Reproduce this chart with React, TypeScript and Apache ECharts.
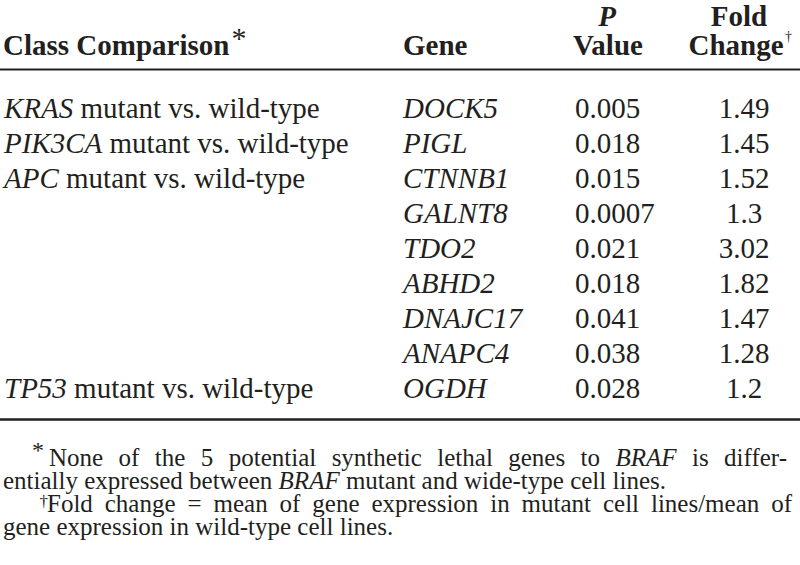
import React, { useEffect, useRef } from 'react';
import * as echarts from 'echarts';

const FAMILY = 'Liberation Serif';
const INK = '#231f20';

// ---- table text ----
const headerClass = 'Class Comparison';
const headerClassMark = '*';
const headerGene = 'Gene';
const headerP = ['P', 'Value'];
const headerFold = ['Fold', 'Change'];
const headerFoldMark = '\u2020';

const classGenes = ['KRAS', 'PIK3CA', 'APC', '', '', '', '', '', 'TP53'];
const classSuffix = 'mutant vs. wild-type';
const genes = ['DOCK5', 'PIGL', 'CTNNB1', 'GALNT8', 'TDO2', 'ABHD2', 'DNAJC17', 'ANAPC4', 'OGDH'];
const pValues = ['0.005', '0.018', '0.015', '0.0007', '0.021', '0.018', '0.041', '0.038', '0.028'];
const foldChanges = ['1.49', '1.45', '1.52', '1.3', '3.02', '1.82', '1.47', '1.28', '1.2'];

// ---- footnotes: [text, italic] runs ----
const footnoteMarks = ['*', '\u2020'];
const footnote1Line1: [string, boolean][] = [
  ['None of the 5 potential synthetic lethal genes to', false],
  ['BRAF', true],
  ['is differ-', false],
];
const footnote1Line2: [string, boolean][] = [
  ['entially expressed between', false],
  ['BRAF', true],
  ['mutant and wide-type cell lines.', false],
];
const footnote2Line1: [string, boolean][] = [
  ['Fold change = mean of gene expression in mutant cell lines/mean of', false],
];
const footnote2Line2: [string, boolean][] = [['gene expression in wild-type cell lines.', false]];

type Word = { t: string; it: boolean; b: boolean };

function canvasFont(size: number, it: boolean, b: boolean) {
  return `${it ? 'italic ' : ''}${b ? 'bold ' : ''}${size}px "${FAMILY}"`;
}

export default function App() {
  const ref = useRef<HTMLDivElement>(null);

  useEffect(() => {
    if (!ref.current) return;
    const chart = echarts.init(ref.current, undefined, { renderer: 'svg' });
    const canvas = document.createElement('canvas');
    const ctx = canvas.getContext('2d')!;
    const measure = (t: string, size: number, it: boolean, b: boolean) => {
      ctx.font = canvasFont(size, it, b);
      return ctx.measureText(t).width;
    };

    const els: any[] = [];
    const text = (
      x: number,
      baseline: number,
      t: string,
      size: number,
      it = false,
      b = false,
      align: 'left' | 'center' | 'right' = 'left'
    ) => {
      const lh = Math.round(size * 0.84);
      els.push({
        type: 'text',
        x,
        y: baseline - 0.3375 * size,
        silent: true,
        style: {
          text: t,
          fontFamily: FAMILY,
          fontSize: size,
          lineHeight: lh,
          fontStyle: it ? 'italic' : 'normal',
          fontWeight: b ? 'bold' : 'normal',
          fill: INK,
          textAlign: align,
          align,
          textVerticalAlign: 'middle',
          verticalAlign: 'middle',
        },
      });
    };

    const toWords = (runs: [string, boolean][], b = false): Word[] => {
      const out: Word[] = [];
      runs.forEach(([s, it]) => {
        s.split(' ')
          .filter((w) => w.length)
          .forEach((w) => out.push({ t: w, it, b }));
      });
      return out;
    };

    // lay words; if right given -> justify
    const layWords = (words: Word[], x: number, baseline: number, size: number, right?: number) => {
      const widths = words.map((w) => measure(w.t, size, w.it, w.b));
      const total = widths.reduce((a, c) => a + c, 0);
      let gap = measure(' ', size, false, false);
      if (right !== undefined && words.length > 1) gap = (right - x - total) / (words.length - 1);
      let cx = x;
      words.forEach((w, i) => {
        text(cx, baseline, w.t, size, w.it, w.b);
        cx += widths[i] + gap;
      });
      return cx - gap;
    };

    const BODY = 29;
    const FOOT = 25;

    // header
    const hb = 55;
    const tb = 26;
    text(3, hb, headerClass, BODY, false, true);
    const cw = measure(headerClass, BODY, false, true);
    text(3 + cw + 2, 48, headerClassMark, 30);
    text(403, hb, headerGene, BODY, false, true);
    text(607, tb, headerP[0], BODY, true, true, 'center');
    text(608, hb, headerP[1], BODY, false, true, 'center');
    text(739, tb, headerFold[0], BODY, false, true, 'center');
    text(736, hb, headerFold[1], BODY, false, true, 'center');
    const chw = measure(headerFold[1], BODY, false, true);
    text(736 + chw / 2 + 1.5, 41, headerFoldMark, 14);

    // rules
    els.push({
      type: 'line',
      silent: true,
      shape: { x1: 0, y1: 69.5, x2: 800, y2: 69.5 },
      style: { stroke: INK, lineWidth: 2 },
    });
    els.push({
      type: 'line',
      silent: true,
      shape: { x1: 0, y1: 419.5, x2: 800, y2: 419.5 },
      style: { stroke: INK, lineWidth: 2.5 },
    });

    // rows
    genes.forEach((g, i) => {
      const b = 117.5 + 35 * i;
      if (classGenes[i]) {
        const words: Word[] = [
          { t: classGenes[i], it: true, b: false },
          ...toWords([[classSuffix, false]]),
        ];
        layWords(words, 4, b, BODY);
      }
      text(403, b, g, BODY, true);
      text(575, b, pValues[i], BODY);
      text(744, b, foldChanges[i], BODY, false, false, 'center');
    });

    // footnotes
    text(32, 458, footnoteMarks[0], 24);
    layWords(toWords(footnote1Line1), 49, 466, FOOT, 787);
    layWords(toWords(footnote1Line2), 3, 488.5, FOOT);
    text(39.5, 507.5, footnoteMarks[1], 17);
    layWords(toWords(footnote2Line1), 47, 511.5, FOOT, 792);
    layWords(toWords(footnote2Line2), 3, 534.5, FOOT);

    chart.setOption({
      animation: false,
      backgroundColor: '#ffffff',
      graphic: { elements: els },
    });

    return () => chart.dispose();
  }, []);

  return (
    <div
      ref={ref}
      style={{ position: 'fixed', left: 0, top: 0, width: 800, height: 565, background: '#fff' }}
    />
  );
}
